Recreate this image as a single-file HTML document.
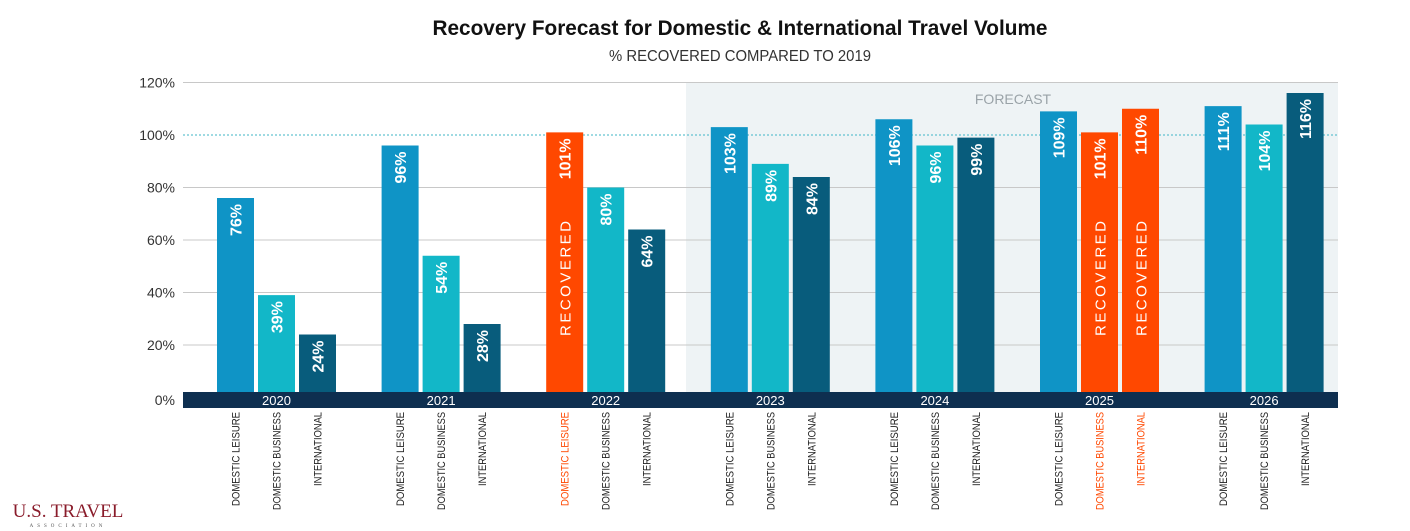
<!DOCTYPE html>
<html><head><meta charset="utf-8"><style>
body{margin:0;background:#fff;}
svg{display:block;font-family:"Liberation Sans",sans-serif;}
</style></head><body>
<svg id="chart" width="1410" height="531" viewBox="0 0 1410 531">
<text x="740" y="35" text-anchor="middle" font-size="21" font-weight="bold" fill="#111" textLength="615" lengthAdjust="spacingAndGlyphs">Recovery Forecast for Domestic &amp; International Travel Volume</text>
<text x="740" y="61" text-anchor="middle" font-size="16" fill="#333" textLength="262" lengthAdjust="spacingAndGlyphs">% RECOVERED COMPARED TO 2019</text>
<rect x="686" y="83" width="652" height="310" fill="#eef3f5"/>
<text x="1013" y="104" text-anchor="middle" font-size="14" fill="#9aa3a8">FORECAST</text>
<g id="grid"></g>
<g id="bars"></g>
<rect x="183" y="392" width="1155" height="16" fill="#0e2f50"/>
<g id="years"></g>
<g id="cats"></g>
<text x="68" y="517" text-anchor="middle" font-family="Liberation Serif,serif" font-size="19" fill="#8a1c2b">U.S. TRAVEL</text>
<text x="68" y="527" text-anchor="middle" font-family="Liberation Serif,serif" font-size="5" letter-spacing="4" fill="#555">ASSOCIATION</text>
</svg>
<script>
const years = ['2020','2021','2022','2023','2024','2025','2026'];
const categories = ['DOMESTIC LEISURE','DOMESTIC BUSINESS','INTERNATIONAL'];
const leisure = [76,96,101,103,106,109,111];
const business = [39,54,80,89,96,101,104];
const international = [24,28,64,84,99,110,116];
const recovered = [[0,0,0],[0,0,0],[1,0,0],[0,0,0],[0,0,0],[0,1,1],[0,0,0]];
const yTicks = [0,20,40,60,80,100,120];

const NS='http://www.w3.org/2000/svg';
const y0=397.5, pxPer=2.625;
const yS=v=>y0-v*pxPer;
const gx=i=>217+i*164.6;
const bw=37, step=41;
const colors=['#0f94c6','#12b7c8','#085c7c'];
function mk(tag,attrs,parent){const e=document.createElementNS(NS,tag);for(const k in attrs)e.setAttribute(k,attrs[k]);parent.appendChild(e);return e;}
const grid=document.getElementById('grid');
yTicks.forEach(t=>{
  const y=yS(t);
  if(t>0){
    const l=mk('line',{x1:183,x2:1338,y1:y,y2:y,stroke:t===100?'#3fb6c6':'#c8c8c8','stroke-width':1,'stroke-dasharray':t===100?'2,2':''},grid);
    
    
  }
  const tx=mk('text',{x:175,y:(t===0?405:y+5),'text-anchor':'end','font-size':14,fill:'#333'},grid);
  tx.textContent=t+'%';
  
  
});
const bars=document.getElementById('bars'), yrs=document.getElementById('years'), cats=document.getElementById('cats');
const series=[leisure,business,international];
years.forEach((yr,i)=>{
  series.forEach((s,j)=>{
    const v=s[i], x=gx(i)+j*step, top=yS(v), rec=recovered[i][j];
    const r=mk('rect',{x:x,y:top,width:bw,height:392-top,fill:rec?'#ff4800':colors[j]},bars);
    
    
    const cx=x+bw/2+6;
    const t=mk('text',{x:cx,y:top+6,transform:`rotate(-90 ${cx} ${top+6})`,'text-anchor':'end','font-size':16,'font-weight':'bold',fill:'#fff'},bars);
    t.textContent=v+'%';
    
    
    if(rec){
      const rt=mk('text',{x:cx,y:336,transform:`rotate(-90 ${cx} 336)`,'font-size':15,'letter-spacing':'2.5',fill:'#fff'},bars);
      rt.textContent='RECOVERED';
      
      
    }
    const lx=x+bw/2+4;
    const ct=mk('text',{x:lx,y:412,transform:`rotate(-90 ${lx} 412)`,'text-anchor':'end','font-size':11,fill:rec?'#ff4800':'#222',textLength:j===2?74:(j===0?94:98),lengthAdjust:'spacingAndGlyphs'},cats);
    ct.textContent=categories[j];
    
    
  });
  const yt=mk('text',{x:gx(i)+bw*1.5+4,y:405,'text-anchor':'middle','font-size':13,fill:'#fff'},yrs);
  yt.textContent=yr;
  
  
});
</script>
</body></html>
